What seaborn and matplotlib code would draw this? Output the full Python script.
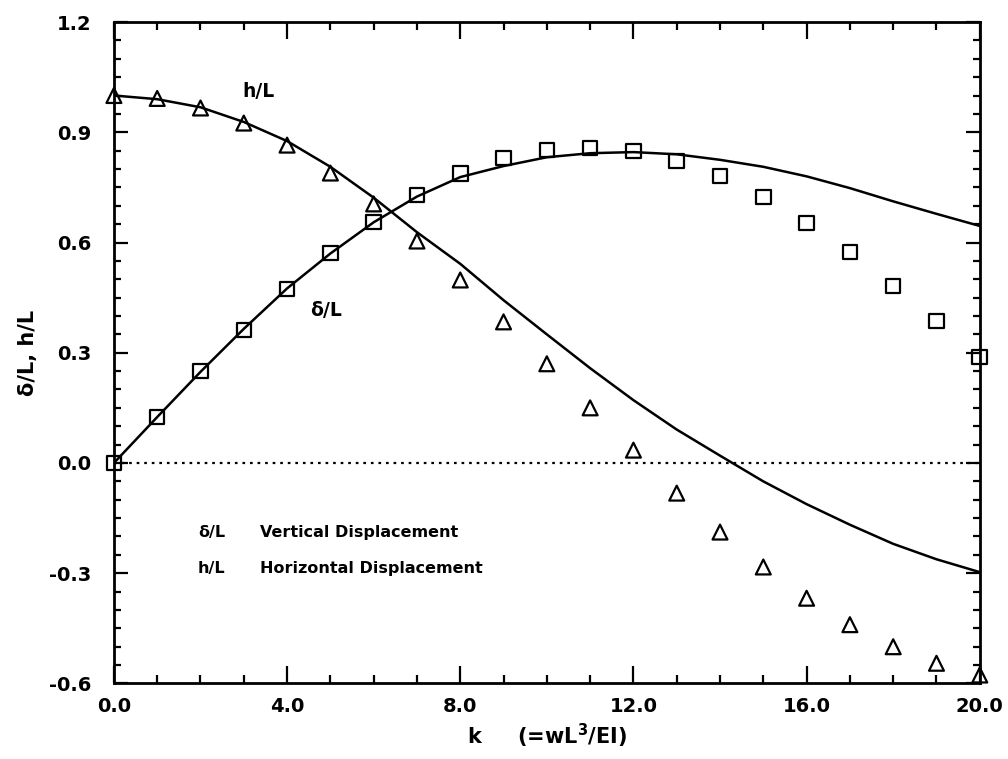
import numpy as np
import pandas as pd
import matplotlib
matplotlib.use("Agg")
import matplotlib.pyplot as plt
from matplotlib.ticker import MultipleLocator, FormatStrFormatter
import seaborn as sns

# Load parameter k = wL^3/EI
k = list(range(0, 21))

# Theoretical curves
delta_theory = [0.0, 0.125, 0.248, 0.365, 0.475, 0.570, 0.655, 0.725, 0.778, 0.808,
                0.832, 0.843, 0.846, 0.840, 0.825, 0.806, 0.780, 0.748, 0.712, 0.678, 0.645]
h_theory = [1.0, 0.990, 0.968, 0.928, 0.876, 0.806, 0.722, 0.628, 0.542, 0.443,
            0.350, 0.258, 0.171, 0.091, 0.020, -0.050, -0.112, -0.168, -0.220, -0.262, -0.297]

# Computed points
delta_points = [0.0, 0.125, 0.250, 0.362, 0.474, 0.571, 0.656, 0.729, 0.787, 0.830,
                0.852, 0.857, 0.849, 0.822, 0.781, 0.724, 0.653, 0.574, 0.482, 0.386, 0.288]
h_points = [1.0, 0.992, 0.966, 0.925, 0.865, 0.789, 0.705, 0.604, 0.498, 0.384,
            0.270, 0.150, 0.035, -0.082, -0.188, -0.283, -0.368, -0.440, -0.500, -0.545, -0.577]

df = pd.DataFrame({"k": k, "delta_t": delta_theory, "h_t": h_theory,
                   "delta_p": delta_points, "h_p": h_points})

sns.set_style("ticks")
plt.rcParams["font.family"] = ["DejaVu Sans"]
plt.rcParams["font.weight"] = "bold"
for key in ("text.color", "axes.labelcolor", "xtick.color", "ytick.color", "axes.edgecolor"):
    plt.rcParams[key] = "black"

fig = plt.figure(figsize=(10.08, 7.59), dpi=100)
ax = fig.add_axes([0.113, 0.0995, 0.859, 0.8715])

sns.lineplot(data=df, x="k", y="delta_t", ax=ax, color="black", linewidth=1.8)
sns.lineplot(data=df, x="k", y="h_t", ax=ax, color="black", linewidth=1.8)
sns.scatterplot(data=df, x="k", y="delta_p", ax=ax, marker="s", s=110,
                facecolor="none", edgecolor="black", linewidth=1.6, zorder=3,
                clip_on=False)
sns.scatterplot(data=df, x="k", y="h_p", ax=ax, marker="^", s=115,
                facecolor="none", edgecolor="black", linewidth=1.6, zorder=3,
                clip_on=False)

ax.axhline(0.0, color="black", linestyle=(0, (1.2, 2.2)), linewidth=1.6, zorder=1)

ax.set_xlim(0, 20)
ax.set_ylim(-0.6, 1.2)
ax.xaxis.set_major_locator(MultipleLocator(4))
ax.xaxis.set_minor_locator(MultipleLocator(1))
ax.yaxis.set_major_locator(MultipleLocator(0.3))
ax.yaxis.set_minor_locator(MultipleLocator(0.05))
ax.xaxis.set_major_formatter(FormatStrFormatter("%.1f"))
ax.yaxis.set_major_formatter(FormatStrFormatter("%.1f"))

ax.tick_params(which="both", direction="in", top=True, right=True, color="black", width=1.6)
ax.tick_params(axis="x", which="major", length=12, pad=10, labelsize=14)
ax.tick_params(axis="x", which="minor", length=6)
ax.tick_params(axis="y", which="major", length=10, pad=16, labelsize=14)
ax.tick_params(axis="y", which="minor", length=5)
for lab in ax.get_xticklabels() + ax.get_yticklabels():
    lab.set_fontweight("bold")
for sp in ax.spines.values():
    sp.set_linewidth(2.0)
    sp.set_color("black")

ax.set_xlabel(r"k     (=wL$^{\mathbf{3}}$/EI)", fontsize=15, fontweight="bold", labelpad=4)
ax.set_ylabel("δ/L, h/L", fontsize=15, fontweight="bold", labelpad=8)

# Curve labels
ax.text(3.35, 1.01, "h/L", fontsize=13.5, fontweight="bold", ha="center", va="center")
ax.text(4.9, 0.416, "δ/L", fontsize=13.5, fontweight="bold", ha="center", va="center")

# Key
ax.text(1.94, -0.19, "δ/L", fontsize=11.5, fontweight="bold", ha="left", va="center")
ax.text(3.37, -0.19, "Vertical Displacement", fontsize=11.5, fontweight="bold",
        ha="left", va="center")
ax.text(1.94, -0.286, "h/L", fontsize=11.5, fontweight="bold", ha="left", va="center")
ax.text(3.37, -0.286, "Horizontal Displacement", fontsize=11.5, fontweight="bold",
        ha="left", va="center")

fig.savefig("out.png", dpi=100)
